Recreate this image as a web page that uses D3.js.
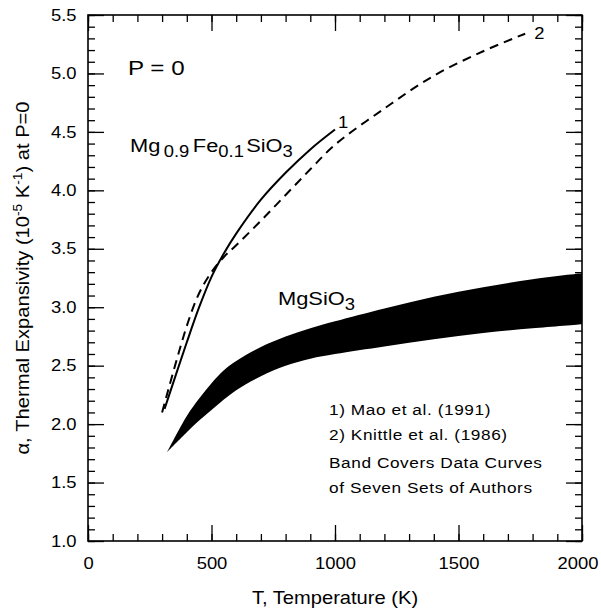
<!DOCTYPE html>
<html>
<head>
<meta charset="utf-8">
<script src="https://cdn.jsdelivr.net/npm/d3@7"></script>
<style>
    body { margin: 0; background: #fff; }
    text { font-family: "Liberation Sans", Arial, Helvetica, sans-serif; fill: #000; }
</style>
</head>
<body>
<svg id="chart" width="601" height="611"></svg>
<script>
// Mao et al. (1991), Mg0.9Fe0.1SiO3 - solid curve "1"
const maoT = [310, 400, 450, 500, 550, 600, 700, 800, 900, 1000];
const maoAlpha = [2.13, 2.70, 3.00, 3.26, 3.46, 3.63, 3.92, 4.15, 4.35, 4.52];

// Knittle et al. (1986) - dashed curve "2"
const knittleT = [300, 400, 450, 500, 550, 600, 700, 800, 900, 1000, 1200, 1400, 1600, 1770];
const knittleAlpha = [2.10, 2.84, 3.12, 3.30, 3.43, 3.53, 3.74, 3.96, 4.18, 4.39, 4.70, 4.98, 5.19, 5.34];

// MgSiO3 band (covers seven sets of authors)
const bandT = [320, 400, 450, 500, 550, 600, 700, 800, 900, 1000, 1200, 1400, 1600, 1800, 2000];
const bandUpper = [1.76, 2.07, 2.22, 2.35, 2.46, 2.54, 2.66, 2.75, 2.82, 2.88, 2.99, 3.09, 3.17, 3.24, 3.29];
const bandLower = [1.76, 1.93, 2.03, 2.12, 2.21, 2.29, 2.41, 2.50, 2.56, 2.60, 2.665, 2.725, 2.78, 2.82, 2.855];

// tick labels
const xMajor = [0, 500, 1000, 1500, 2000];
const yMajor = [1.0, 1.5, 2.0, 2.5, 3.0, 3.5, 4.0, 4.5, 5.0, 5.5];
const legendLines = ["1) Mao et al. (1991)", "2) Knittle et al. (1986)",
    "Band Covers Data Curves", "of Seven Sets of Authors"];

const svg = d3.select("#chart");
const plotLeft = 88, plotRight = 582, plotTop = 15, plotBottom = 541;
const sx = 1.15; // the scanned lettering is wider than Arial

const x = d3.scaleLinear().domain([0, 2000]).range([plotLeft, plotRight]);
const y = d3.scaleLinear().domain([1, 5.5]).range([plotBottom, plotTop]);

const xMinor = x.ticks(20);
const yMinor = y.ticks(45);

// axes, ticks pointing inward on all four sides
function drawAxis(axis, tx, ty, labels) {
    let g = svg.append("g")
        .attr("transform", `translate(${tx},${ty})`)
        .call(axis);
    g.select(".domain").remove();
    g.selectAll("line").attr("stroke", "#000").attr("stroke-width", 1.3);
    if (labels) {
        g.selectAll("text")
            .attr("fill", "#000")
            .style("font-size", "16px")
            .attr("transform", `scale(${sx},1)`);
    } else {
        g.selectAll("text").remove();
    }
    return g;
}

drawAxis(d3.axisBottom(x).tickValues(xMinor).tickSizeInner(-7).tickSizeOuter(0), 0, plotBottom, false);
drawAxis(d3.axisTop(x).tickValues(xMinor).tickSizeInner(-7).tickSizeOuter(0), 0, plotTop, false);
drawAxis(d3.axisLeft(y).tickValues(yMinor).tickSizeInner(-7).tickSizeOuter(0), plotLeft, 0, false);
drawAxis(d3.axisRight(y).tickValues(yMinor).tickSizeInner(-7).tickSizeOuter(0), plotRight, 0, false);

let xAxisG = drawAxis(d3.axisBottom(x).tickValues(xMajor).tickSizeInner(-16).tickSizeOuter(0)
    .tickPadding(17).tickFormat(d3.format("d")), 0, plotBottom, true);
// last label sits a little left of its tick in the original, keeping it on the page
xAxisG.selectAll("text").filter(d => d === xMajor[xMajor.length - 1]).attr("dx", -4);
drawAxis(d3.axisTop(x).tickValues(xMajor).tickSizeInner(-16).tickSizeOuter(0), 0, plotTop, false);
drawAxis(d3.axisLeft(y).tickValues(yMajor).tickSizeInner(-16).tickSizeOuter(0)
    .tickPadding(10).tickFormat(d3.format(".1f")), plotLeft, 0, true);
drawAxis(d3.axisRight(y).tickValues(yMajor).tickSizeInner(-16).tickSizeOuter(0), plotRight, 0, false);

svg.append("rect")
    .attr("x", plotLeft)
    .attr("y", plotTop)
    .attr("width", plotRight - plotLeft)
    .attr("height", plotBottom - plotTop)
    .attr("fill", "none")
    .attr("stroke", "#000")
    .attr("stroke-width", 1.6);

// MgSiO3 band
const band = bandT.map((t, i) => ({ t: t, lo: bandLower[i], hi: bandUpper[i] }));
svg.append("path")
    .datum(band)
    .attr("fill", "#000")
    .attr("d", d3.area()
        .x(d => x(d.t))
        .y0(d => y(d.lo))
        .y1(d => y(d.hi))
        .curve(d3.curveCatmullRom.alpha(0.5)));

const line = d3.line()
    .x(d => x(d[0]))
    .y(d => y(d[1]))
    .curve(d3.curveCatmullRom.alpha(0.5));

svg.append("path")
    .datum(knittleT.map((t, i) => [t, knittleAlpha[i]]))
    .attr("fill", "none")
    .attr("stroke", "#000")
    .attr("stroke-width", 2)
    .attr("stroke-dasharray", "9,6")
    .attr("d", line);

svg.append("path")
    .datum(maoT.map((t, i) => [t, maoAlpha[i]]))
    .attr("fill", "none")
    .attr("stroke", "#000")
    .attr("stroke-width", 2)
    .attr("d", line);

// text helper: anchored at (px, py), stretched horizontally
function label(px, py, size, anchor, rotate) {
    return svg.append("text")
        .attr("transform", `translate(${px},${py}) rotate(${rotate || 0}) scale(${sx},1)`)
        .attr("text-anchor", anchor || "start")
        .style("font-size", size + "px");
}

// curve numbers
label(x(maoT[maoT.length - 1]) + 3, y(maoAlpha[maoAlpha.length - 1]) - 2, 16).text("1");
label(x(knittleT[knittleT.length - 1]) + 9, y(knittleAlpha[knittleAlpha.length - 1]) + 5, 16).text("2");

label(128, 75, 21).text("P = 0");

let fe = label(130, 152, 19);
fe.append("tspan").text("Mg");
fe.append("tspan").attr("dx", 3).attr("dy", 5).style("font-size", "16px").text("0.9");
fe.append("tspan").attr("dx", 3).attr("dy", -5).text("Fe");
fe.append("tspan").attr("dy", 5).style("font-size", "16px").text("0.1");
fe.append("tspan").attr("dx", 2).attr("dy", -5).text("SiO");
fe.append("tspan").attr("dy", 5).style("font-size", "16px").text("3");

let mg = label(278, 305, 19);
mg.append("tspan").text("MgSiO");
mg.append("tspan").attr("dy", 5).style("font-size", "16px").text("3");

legendLines.forEach((s, i) => {
    label(329, [415, 440, 468, 493][i], 15)
        .style("letter-spacing", "0.5px")
        .text(s);
});

// axis titles
label((plotLeft + plotRight) / 2, 604, 17.5, "middle").text("T, Temperature (K)");

let yt = label(28.5, (plotTop + plotBottom) / 2, 17.5, "middle", -90);
yt.append("tspan").text("\u03b1, Thermal Expansivity (10");
yt.append("tspan").attr("dy", -7).style("font-size", "12px").text("-5");
yt.append("tspan").attr("dy", 7).text(" K");
yt.append("tspan").attr("dy", -7).style("font-size", "12px").text("-1");
yt.append("tspan").attr("dy", 7).text(") at P=0");
</script>
</body>
</html>
